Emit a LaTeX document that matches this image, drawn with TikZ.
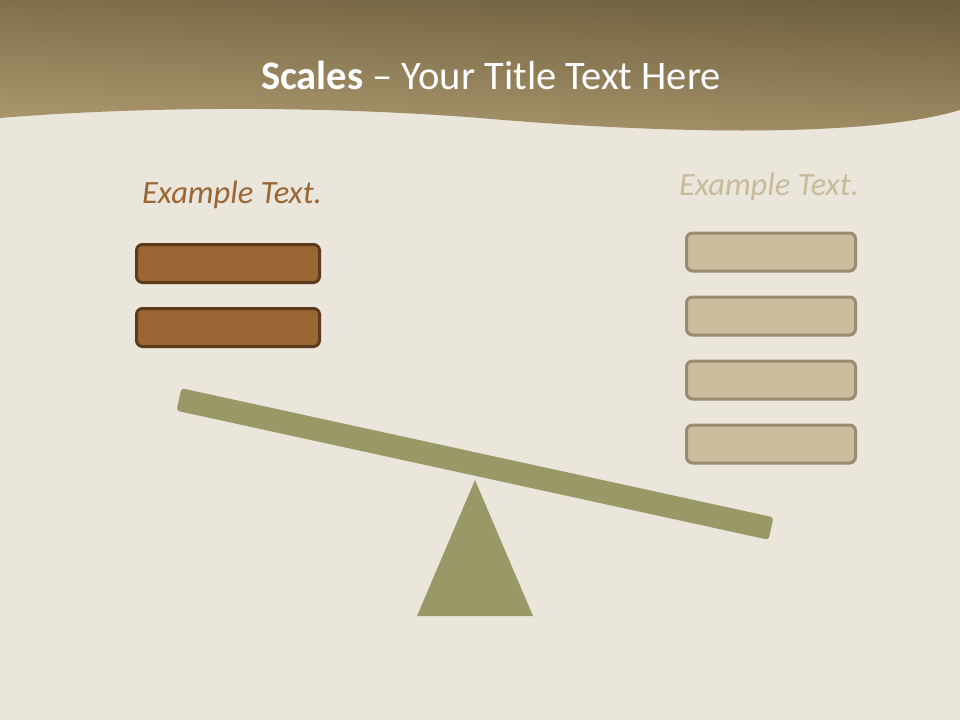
\documentclass[tikz,border=0pt]{standalone}
\usepackage{fontspec}
\setmainfont{Carlito}
\usepackage{xcolor}
\usepackage{tikz}
\usetikzlibrary{positioning}
\definecolor{paper}{HTML}{EAE6DC}
\definecolor{hdrdark}{HTML}{6E603E}
\definecolor{hdrlight}{HTML}{B09C72}
\definecolor{rust}{HTML}{9A6633}
\definecolor{rustline}{HTML}{5C3A1C}
\definecolor{sand}{HTML}{CABC9C}
\definecolor{sandline}{HTML}{998B6E}
\definecolor{olive}{HTML}{9A9866}
\definecolor{sandtext}{HTML}{C9BA9A}
\tikzset{
  slab/.style={rounded corners=6pt,line width=3pt,minimum height=38pt,inner sep=0pt},
  slabl/.style={slab,draw=rustline,fill=rust,minimum width=183pt},
  slabr/.style={slab,draw=sandline,fill=sand,minimum width=169pt},
  head/.style={font=\fontsize{40.5}{48}\selectfont\color{white}},
  sidetxt/.style={font=\fontsize{32.5}{39}\selectfont\itshape},
  beam/.style={fill=olive,rounded corners=3pt,minimum width=606pt,minimum height=23pt,inner sep=0pt},
}
\begin{document}
\begin{tikzpicture}[x=1pt,y=-1pt,node distance=23pt]
\useasboundingbox (0,0) rectangle (960,720);
\fill[paper] (0,0) rectangle (960,720);
\shade[top color=hdrdark,bottom color=hdrlight,shading angle=-3] (0,0) -- (960,0) -- (960,110) .. controls (860,140) and (640,132) .. (480,118) .. controls (300,104) and (120,108) .. (0,118) -- cycle;
\node[head] (title) at (491,75) {\textbf{Scales} -- Your Title Text Here};
\node[sidetxt,text=rust] (txtl) at (232,195) {Example Text.};
\node[sidetxt,text=sandtext] (txtr) at (769,187) {Example Text.};
\node[slabl] (l1) at (228,263.5) {};
\node[slabl,below=of l1] (l2) {};
\node[slabr] (r1) at (771,252) {};
\node[slabr,below=of r1] (r2) {};
\node[slabr,below=of r2] (r3) {};
\node[slabr,below=of r3] (r4) {};
\node[beam,rotate=-12.3] (bar) at (475,464) {};
\fill[olive] (475,480) -- (533,616) -- (417,616) -- cycle;
\end{tikzpicture}
\end{document}
